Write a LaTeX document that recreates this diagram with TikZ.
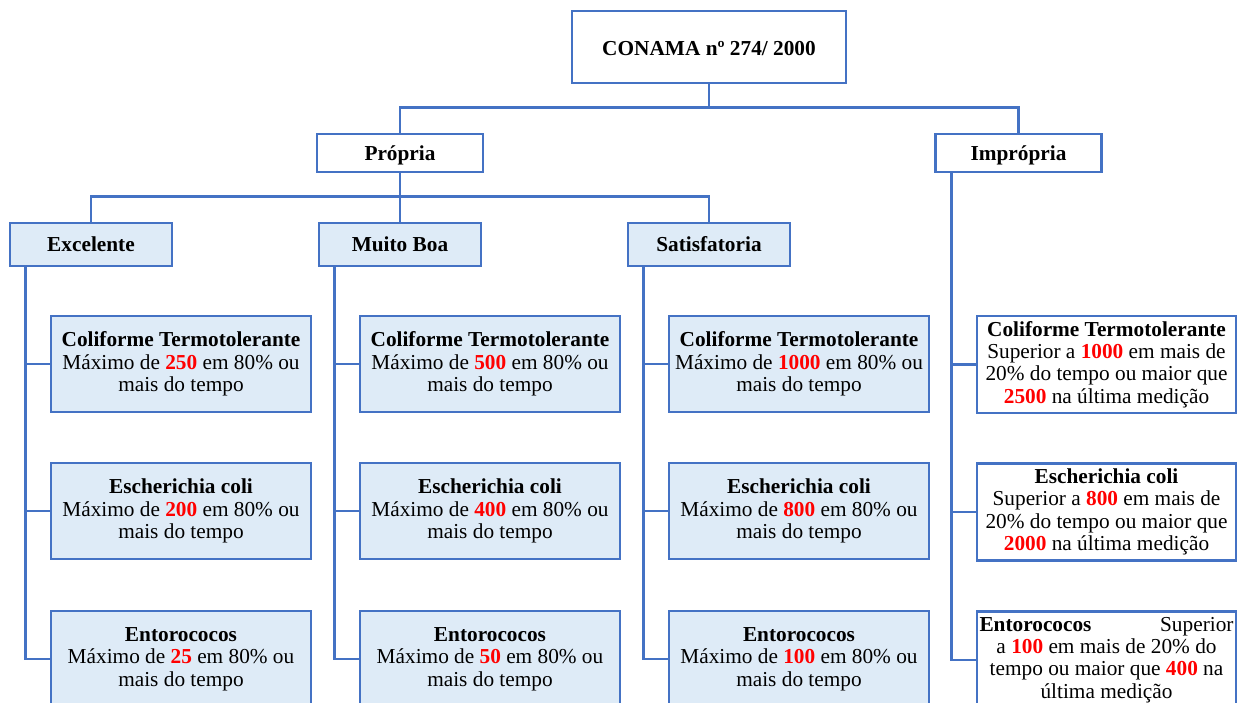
\documentclass[tikz,border=0pt]{standalone}
\usepackage{fontspec}
\setmainfont{Liberation Serif}
\definecolor{bordo}{HTML}{4472C4}
\definecolor{fundo}{HTML}{DEEBF7}
\newcommand\vm[1]{\textcolor{red}{\textbf{#1}}}
\newcommand\fsz{\fontsize{21.3}{22.4}\selectfont}
\newcommand\downstrut[1]{\rule{0pt}{\dimexpr 0.69em+#1\relax}}
\tikzset{
  base/.style={draw=bordo, line width=2.6pt, inner sep=0pt, align=center,
    font=\fsz},
  topbox/.style={base, fill=white, minimum width=274pt, minimum height=72pt, font=\fsz\bfseries,
    execute at begin node={\downstrut{2pt}}},
  grpbox/.style={base, fill=white, minimum width=166pt, minimum height=38pt, font=\fsz\bfseries,
    execute at begin node={\downstrut{4pt}}},
  clsbox/.style={base, fill=fundo, minimum width=162pt, minimum height=43pt, font=\fsz\bfseries},
  itembox/.style={base, fill=fundo, minimum width=260pt, minimum height=96pt,
    execute at begin node={\downstrut{4pt}}},
  impbox/.style={base, fill=white, minimum width=259pt, minimum height=97pt,
    execute at begin node={\downstrut{4pt}}},
  conn/.style={draw=bordo, line width=2.6pt, line join=miter},
}
\begin{document}
\begin{tikzpicture}[x=1pt,y=-1pt]
\useasboundingbox (0,0) rectangle (1245,702);
\node[topbox] (conama) at (709,47) {CONAMA nº 274/ 2000};
\node[grpbox] (propria) at (400,153) {Própria};
\node[grpbox] (impropria) at (1018.5,153) {Imprópria};
\node[clsbox] (exc) at (91,244.5) {Excelente};
\node[clsbox] (mb) at (400,244.5) {Muito Boa};
\node[clsbox] (sat) at (709,244.5) {Satisfatoria};

% Excelente column
\node[itembox] (e1) at (181,364) {\textbf{Coliforme Termotolerante}\\Máximo de \vm{250} em 80\% ou\\mais do tempo};
\node[itembox] (e2) at (181,511) {\textbf{Escherichia coli}\\Máximo de \vm{200} em 80\% ou\\mais do tempo};
\node[itembox] (e3) at (181,659) {\textbf{Entorococos}\\Máximo de \vm{25} em 80\% ou\\mais do tempo};
% Muito Boa column
\node[itembox] (m1) at (490,364) {\textbf{Coliforme Termotolerante}\\Máximo de \vm{500} em 80\% ou\\mais do tempo};
\node[itembox] (m2) at (490,511) {\textbf{Escherichia coli}\\Máximo de \vm{400} em 80\% ou\\mais do tempo};
\node[itembox] (m3) at (490,659) {\textbf{Entorococos}\\Máximo de \vm{50} em 80\% ou\\mais do tempo};
% Satisfatoria column
\node[itembox] (s1) at (799,364) {\textbf{Coliforme Termotolerante}\\Máximo de \vm{1000} em 80\% ou\\mais do tempo};
\node[itembox] (s2) at (799,511) {\textbf{Escherichia coli}\\Máximo de \vm{800} em 80\% ou\\mais do tempo};
\node[itembox] (s3) at (799,659) {\textbf{Entorococos}\\Máximo de \vm{100} em 80\% ou\\mais do tempo};
% Impropria column
\node[impbox] (i1) at (1106.5,364.5) {\textbf{Coliforme Termotolerante}\\Superior a \vm{1000} em mais de\\20\% do tempo ou maior que\\\vm{2500} na última medição};
\node[impbox] (i2) at (1106.5,512) {\textbf{Escherichia coli}\\Superior a \vm{800} em mais de\\20\% do tempo ou maior que\\\vm{2000} na última medição};
\node[impbox] (i3) at (1106.5,660) {\makebox[254pt]{\textbf{Entorococos}\hfill Superior}\\a \vm{100} em mais de 20\% do\\tempo ou maior que \vm{400} na\\última medição};

% connectors
\coordinate (bus1) at (709,108);
\draw[conn] (conama.south) -- (bus1);
\draw[conn] (propria.north) -- ++(0,-25) -| (impropria.north);
\draw[conn] (propria.south) -- (mb.north);
\draw[conn] (exc.north) -- ++(0,-25) -| (sat.north);

\coordinate (es) at ([xshift=17pt]exc.south west);
\coordinate (ms) at ([xshift=17pt]mb.south west);
\coordinate (ss) at ([xshift=17pt]sat.south west);
\coordinate (is) at ([xshift=17pt]impropria.south west);
\foreach \s/\a/\b/\c in {es/e1/e2/e3, ms/m1/m2/m3, ss/s1/s2/s3, is/i1/i2/i3}{
  \draw[conn] (\s) |- (\c.west);
  \draw[conn] (\s |- \a.west) -- (\a.west);
  \draw[conn] (\s |- \b.west) -- (\b.west);
}
\end{tikzpicture}
\end{document}
